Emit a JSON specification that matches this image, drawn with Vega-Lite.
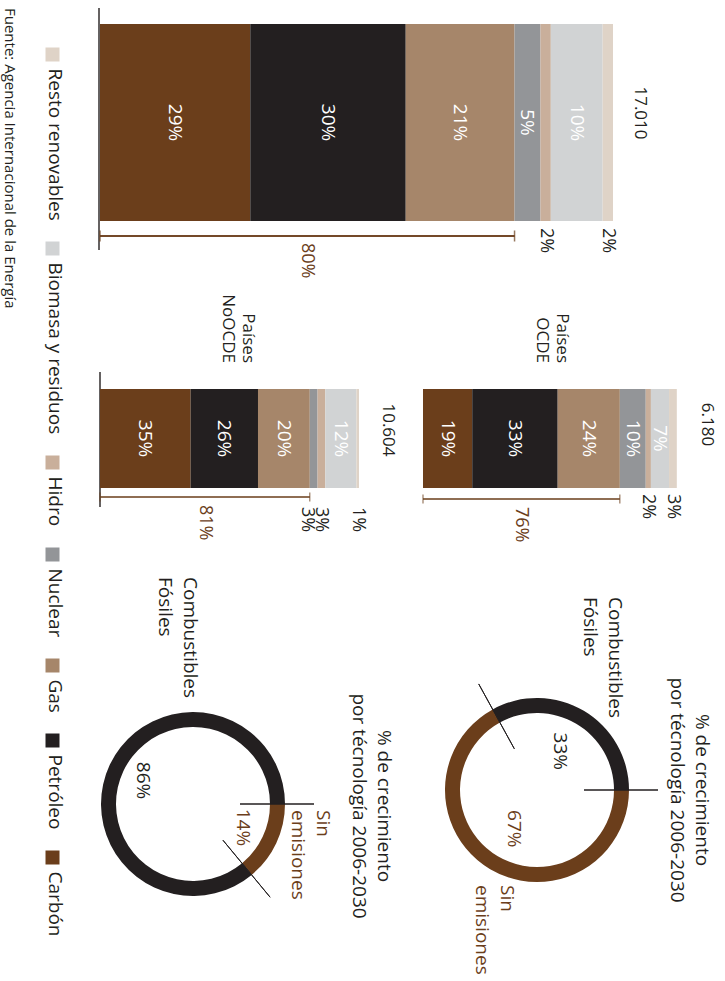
{
  "$schema": "https://vega.github.io/schema/vega-lite/v6.json",
  "width": 725,
  "height": 981,
  "autosize": {"type": "none"},
  "padding": 0,
  "background": "white",
  "config": {
    "view": {"stroke": null},
    "font": "Open Sans",
    "locale": {"number": {"decimal": ",", "thousands": ".", "grouping": [3], "currency": ["", " €"]}}
  },
  "datasets": {
    "mix": [
      {"region": "Mundo", "fuente": "Carbón", "grupo": "fósil", "orden": 1, "pct": 0.29},
      {"region": "Mundo", "fuente": "Petróleo", "grupo": "fósil", "orden": 2, "pct": 0.30},
      {"region": "Mundo", "fuente": "Gas", "grupo": "fósil", "orden": 3, "pct": 0.21},
      {"region": "Mundo", "fuente": "Nuclear", "grupo": "otras", "orden": 4, "pct": 0.05},
      {"region": "Mundo", "fuente": "Hidro", "grupo": "otras", "orden": 5, "pct": 0.02},
      {"region": "Mundo", "fuente": "Biomasa y residuos", "grupo": "otras", "orden": 6, "pct": 0.10},
      {"region": "Mundo", "fuente": "Resto renovables", "grupo": "otras", "orden": 7, "pct": 0.02},
      {"region": "OCDE", "fuente": "Carbón", "grupo": "fósil", "orden": 1, "pct": 0.19},
      {"region": "OCDE", "fuente": "Petróleo", "grupo": "fósil", "orden": 2, "pct": 0.33},
      {"region": "OCDE", "fuente": "Gas", "grupo": "fósil", "orden": 3, "pct": 0.24},
      {"region": "OCDE", "fuente": "Nuclear", "grupo": "otras", "orden": 4, "pct": 0.10},
      {"region": "OCDE", "fuente": "Hidro", "grupo": "otras", "orden": 5, "pct": 0.02},
      {"region": "OCDE", "fuente": "Biomasa y residuos", "grupo": "otras", "orden": 6, "pct": 0.07},
      {"region": "OCDE", "fuente": "Resto renovables", "grupo": "otras", "orden": 7, "pct": 0.03},
      {"region": "NoOCDE", "fuente": "Carbón", "grupo": "fósil", "orden": 1, "pct": 0.35},
      {"region": "NoOCDE", "fuente": "Petróleo", "grupo": "fósil", "orden": 2, "pct": 0.26},
      {"region": "NoOCDE", "fuente": "Gas", "grupo": "fósil", "orden": 3, "pct": 0.20},
      {"region": "NoOCDE", "fuente": "Nuclear", "grupo": "otras", "orden": 4, "pct": 0.03},
      {"region": "NoOCDE", "fuente": "Hidro", "grupo": "otras", "orden": 5, "pct": 0.03},
      {"region": "NoOCDE", "fuente": "Biomasa y residuos", "grupo": "otras", "orden": 6, "pct": 0.12},
      {"region": "NoOCDE", "fuente": "Resto renovables", "grupo": "otras", "orden": 7, "pct": 0.01}
    ],
    "regiones": [
      {"region": "Mundo", "demanda": 17010, "etiqueta": ""},
      {"region": "OCDE", "demanda": 6180, "etiqueta": "Países\nOCDE"},
      {"region": "NoOCDE", "demanda": 10604, "etiqueta": "Países\nNoOCDE"}
    ],
    "donas": [
      {"region": "OCDE", "tipo": "Sin emisiones", "orden": 1, "pct": 0.67},
      {"region": "OCDE", "tipo": "Combustibles Fósiles", "orden": 2, "pct": 0.33},
      {"region": "NoOCDE", "tipo": "Sin emisiones", "orden": 1, "pct": 0.14},
      {"region": "NoOCDE", "tipo": "Combustibles Fósiles", "orden": 2, "pct": 0.86}
    ],
    "titulos": [
      {"region": "OCDE", "titulo": "% de crecimiento\npor técnología 2006-2030"},
      {"region": "NoOCDE", "titulo": "% de crecimiento\npor técnología 2006-2030"}
    ],
    "notas": [
      {"region": "Mundo", "texto": "Fuente: Agencia Internacional de la Energía"}
    ]
  },
  "layer": [
    {
      "layer": [
        {
          "data": {"name": "mix"},
          "transform": [
            {"filter": "datum.region === 'Mundo'"},
            {"stack": "pct", "groupby": ["region"], "sort": [{"field": "orden", "order": "ascending"}], "as": ["ini", "fin"]}
          ],
          "encoding": {
            "y": {"field": "region", "type": "nominal", "axis": null,
                  "scale": {"paddingInner": 0.497449, "paddingOuter": 1, "align": 0.030612}}
          },
          "layer": [
            {
              "transform": [{"filter": "datum.orden === 1"}],
              "mark": {"type": "tick", "color": "#231f20", "thickness": 2, "size": 242, "xOffset": -1, "yOffset": 6.5},
              "encoding": {"x": {"field": "ini", "type": "quantitative", "axis": null}}
            },
            {
              "mark": {"type": "bar"},
              "encoding": {
                "x": {"field": "ini", "type": "quantitative", "axis": null,
                      "scale": {"domain": [-0.19298, 1.20615], "nice": false, "zero": false}},
                "x2": {"field": "fin"},
                "color": {
                  "field": "fuente", "type": "nominal",
                  "scale": {
                    "domain": ["Carbón", "Petróleo", "Gas", "Nuclear", "Hidro", "Biomasa y residuos", "Resto renovables"],
                    "range": ["#6b3e1b", "#231f20", "#a6866a", "#939598", "#c9af9b", "#d1d3d4", "#dfd3c7"]
                  },
                  "legend": {
                    "orient": "none", "legendX": 43, "legendY": 45, "direction": "vertical",
                    "title": null, "padding": 0,
                    "values": ["Resto renovables", "Biomasa y residuos", "Hidro", "Nuclear", "Gas", "Petróleo", "Carbón"],
                    "symbolType": "square", "symbolSize": 196, "symbolStrokeWidth": 0, "symbolOffset": 0,
                    "labelFont": "Open Sans", "labelFontSize": 19, "labelColor": "#231f20",
                    "labelLimit": 400, "labelOffset": -7, "labelAlign": "left", "labelBaseline": "middle",
                    "rowPadding": 18,
                    "encoding": {"labels": {"angle": {"value": 90}, "dx": {"value": 14}}}
                  }
                }
              }
            },
            {
              "transform": [{"filter": "datum.pct >= 0.05"}, {"fold": ["ini", "fin"], "as": ["extremo", "pos"]}],
              "mark": {"type": "text", "angle": 90, "align": "center", "baseline": "middle", "fontSize": 19, "color": "white"},
              "encoding": {
                "x": {"aggregate": "mean", "field": "pos", "type": "quantitative", "axis": null},
                "detail": {"field": "fuente", "type": "nominal"},
                "text": {"field": "pct", "type": "quantitative", "format": ".0%"}
              }
            },
            {
              "transform": [{"filter": "datum.pct < 0.05"}, {"fold": ["ini", "fin"], "as": ["extremo", "pos"]}],
              "mark": {"type": "text", "angle": 90, "align": "left", "baseline": "middle", "fontSize": 18, "color": "#231f20", "yOffset": 7},
              "encoding": {
                "x": {"aggregate": "mean", "field": "pos", "type": "quantitative", "axis": null},
                "y": {"field": "region", "type": "nominal", "bandPosition": 1, "axis": null},
                "detail": {"field": "fuente", "type": "nominal"},
                "text": {"field": "pct", "type": "quantitative", "format": ".0%"}
              }
            },
            {
              "transform": [
                {"aggregate": [{"op": "max", "field": "fin", "as": "hasta"}], "groupby": ["region"]},
                {"lookup": "region", "from": {"data": {"name": "regiones"}, "key": "region", "fields": ["demanda"]}}
              ],
              "mark": {"type": "text", "angle": 90, "align": "center", "baseline": "middle", "fontSize": 17, "color": "#231f20", "xOffset": 27, "yOffset": -9.5},
              "encoding": {
                "x": {"field": "hasta", "type": "quantitative", "axis": null},
                "text": {"field": "demanda", "type": "quantitative", "format": ",d"}
              }
            },
            {
              "transform": [
                {"filter": "datum.grupo === 'fósil'"},
                {"aggregate": [{"op": "min", "field": "ini", "as": "desde"}, {"op": "max", "field": "fin", "as": "hasta"}, {"op": "sum", "field": "pct", "as": "fosil"}], "groupby": ["region"]},
                {"fold": ["desde", "hasta"], "as": ["extremo", "pos"]}
              ],
              "encoding": {"y": {"field": "region", "type": "nominal", "bandPosition": 1, "axis": null}},
              "layer": [
                {
                  "mark": {"type": "rule", "color": "#6b3e1b", "strokeWidth": 1.5, "yOffset": 15},
                  "encoding": {"x": {"field": "desde", "type": "quantitative", "axis": null}, "x2": {"field": "hasta"}}
                },
                {
                  "mark": {"type": "tick", "color": "#6b3e1b", "thickness": 1.5, "size": 11, "yOffset": 113.5},
                  "encoding": {
                    "x": {"field": "pos", "type": "quantitative", "axis": null},
                    "y": {"field": "region", "type": "nominal", "axis": null}
                  }
                },
                {
                  "mark": {"type": "text", "angle": 90, "align": "left", "baseline": "middle", "fontSize": 18, "color": "#6b3e1b", "yOffset": 22},
                  "encoding": {
                    "x": {"aggregate": "mean", "field": "pos", "type": "quantitative", "axis": null},
                    "text": {"field": "fosil", "type": "quantitative", "format": ".0%"}
                  }
                }
              ]
            },
            {
              "transform": [
                {"filter": "datum.orden === 1"},
                {"lookup": "region", "from": {"data": {"name": "notas"}, "key": "region", "fields": ["texto"]}}
              ],
              "mark": {"type": "text", "angle": 90, "align": "left", "baseline": "middle", "fontSize": 15, "color": "#231f20", "xOffset": -90, "yOffset": -16},
              "encoding": {
                "x": {"field": "ini", "type": "quantitative", "axis": null},
                "y": {"field": "region", "type": "nominal", "bandPosition": 0, "axis": null},
                "text": {"field": "texto", "type": "nominal"}
              }
            }
          ]
        },
        {
          "data": {"name": "mix"},
          "transform": [
            {"filter": "datum.region === 'NoOCDE'"},
            {"stack": "pct", "groupby": ["region"], "sort": [{"field": "orden", "order": "ascending"}], "as": ["ini", "fin"]}
          ],
          "encoding": {
            "y": {"field": "region", "type": "nominal", "axis": null,
                  "scale": {"paddingInner": 0.775511, "paddingOuter": 1, "align": 0.441043}}
          },
          "layer": [
            {
              "transform": [{"filter": "datum.orden === 1"}],
              "mark": {"type": "tick", "color": "#231f20", "thickness": 2, "size": 135, "yOffset": 1},
              "encoding": {"x": {"field": "ini", "type": "quantitative", "axis": null}}
            },
            {
              "mark": {"type": "bar"},
              "encoding": {
                "x": {"field": "ini", "type": "quantitative", "axis": null,
                      "scale": {"domain": [-0.38610, 2.41313], "nice": false, "zero": false}},
                "x2": {"field": "fin"},
                "color": {
                  "field": "fuente", "type": "nominal",
                  "scale": {
                    "domain": ["Carbón", "Petróleo", "Gas", "Nuclear", "Hidro", "Biomasa y residuos", "Resto renovables"],
                    "range": ["#6b3e1b", "#231f20", "#a6866a", "#939598", "#c9af9b", "#d1d3d4", "#dfd3c7"]
                  }
                }
              }
            },
            {
              "transform": [{"filter": "datum.pct >= 0.05"}, {"fold": ["ini", "fin"], "as": ["extremo", "pos"]}],
              "mark": {"type": "text", "angle": 90, "align": "center", "baseline": "middle", "fontSize": 19, "color": "white"},
              "encoding": {
                "x": {"aggregate": "mean", "field": "pos", "type": "quantitative", "axis": null},
                "detail": {"field": "fuente", "type": "nominal"},
                "text": {"field": "pct", "type": "quantitative", "format": ".0%"}
              }
            },
            {
              "transform": [{"filter": "datum.pct < 0.05 && datum.fuente !== 'Nuclear'"}, {"fold": ["ini", "fin"], "as": ["extremo", "pos"]}],
              "mark": {"type": "text", "angle": 90, "align": "left", "baseline": "middle", "fontSize": 18, "color": "#231f20", "yOffset": 19},
              "encoding": {
                "x": {"aggregate": "mean", "field": "pos", "type": "quantitative", "axis": null},
                "y": {"field": "region", "type": "nominal", "bandPosition": 1, "axis": null},
                "detail": {"field": "fuente", "type": "nominal"},
                "text": {"field": "pct", "type": "quantitative", "format": ".0%"}
              }
            },
            {
              "transform": [{"filter": "datum.pct < 0.05 && datum.fuente === 'Nuclear'"}, {"fold": ["ini", "fin"], "as": ["extremo", "pos"]}],
              "mark": {"type": "text", "angle": 90, "align": "left", "baseline": "middle", "fontSize": 18, "color": "#231f20", "xOffset": -7, "yOffset": 19},
              "encoding": {
                "x": {"aggregate": "mean", "field": "pos", "type": "quantitative", "axis": null},
                "y": {"field": "region", "type": "nominal", "bandPosition": 1, "axis": null},
                "detail": {"field": "fuente", "type": "nominal"},
                "text": {"field": "pct", "type": "quantitative", "format": ".0%"}
              }
            },
            {
              "transform": [
                {"aggregate": [{"op": "min", "field": "ini", "as": "desde"}, {"op": "max", "field": "fin", "as": "hasta"}], "groupby": ["region"]},
                {"lookup": "region", "from": {"data": {"name": "regiones"}, "key": "region", "fields": ["demanda", "etiqueta"]}},
                {"fold": ["desde", "hasta"], "as": ["extremo", "pos"]}
              ],
              "layer": [
                {
                  "mark": {"type": "text", "angle": 90, "align": "center", "baseline": "middle", "fontSize": 17, "color": "#231f20", "xOffset": 29, "yOffset": -8.5},
                  "encoding": {
                    "x": {"aggregate": "max", "field": "pos", "type": "quantitative", "axis": null},
                    "text": {"field": "demanda", "type": "quantitative", "format": ",d"}
                  }
                },
                {
                  "mark": {"type": "text", "angle": 90, "align": "right", "baseline": "middle", "fontSize": 17, "color": "#231f20", "lineBreak": "\n", "lineHeight": 20, "xOffset": 18.5, "yOffset": -26},
                  "encoding": {
                    "x": {"aggregate": "mean", "field": "pos", "type": "quantitative", "axis": null},
                    "y": {"field": "region", "type": "nominal", "bandPosition": 0, "axis": null},
                    "text": {"field": "etiqueta", "type": "nominal"}
                  }
                }
              ]
            },
            {
              "transform": [
                {"filter": "datum.grupo === 'fósil'"},
                {"aggregate": [{"op": "min", "field": "ini", "as": "desde"}, {"op": "max", "field": "fin", "as": "hasta"}, {"op": "sum", "field": "pct", "as": "fosil"}], "groupby": ["region"]},
                {"fold": ["desde", "hasta"], "as": ["extremo", "pos"]}
              ],
              "encoding": {"y": {"field": "region", "type": "nominal", "bandPosition": 1, "axis": null}},
              "layer": [
                {
                  "mark": {"type": "rule", "color": "#6b3e1b", "strokeWidth": 1.2, "yOffset": 9},
                  "encoding": {"x": {"field": "desde", "type": "quantitative", "axis": null}, "x2": {"field": "hasta"}}
                },
                {
                  "mark": {"type": "tick", "color": "#6b3e1b", "thickness": 1.2, "size": 9, "yOffset": 58.5},
                  "encoding": {
                    "x": {"field": "pos", "type": "quantitative", "axis": null},
                    "y": {"field": "region", "type": "nominal", "axis": null}
                  }
                },
                {
                  "mark": {"type": "text", "angle": 90, "align": "left", "baseline": "middle", "fontSize": 18, "color": "#6b3e1b", "yOffset": 17},
                  "encoding": {
                    "x": {"aggregate": "mean", "field": "pos", "type": "quantitative", "axis": null},
                    "text": {"field": "fosil", "type": "quantitative", "format": ".0%"}
                  }
                }
              ]
            }
          ]
        },
        {
          "data": {"name": "mix"},
          "transform": [
            {"filter": "datum.region === 'OCDE'"},
            {"stack": "pct", "groupby": ["region"], "sort": [{"field": "orden", "order": "ascending"}], "as": ["ini", "fin"]}
          ],
          "encoding": {
            "y": {"field": "region", "type": "nominal", "axis": null,
                  "scale": {"paddingInner": 0.775511, "paddingOuter": 1, "align": 0.441043}}
          },
          "layer": [
            {
              "mark": {"type": "bar"},
              "encoding": {
                "x": {"field": "ini", "type": "quantitative", "axis": null,
                      "scale": {"domain": [-1.63320, 1.16603], "nice": false, "zero": false}},
                "x2": {"field": "fin"},
                "color": {
                  "field": "fuente", "type": "nominal",
                  "scale": {
                    "domain": ["Carbón", "Petróleo", "Gas", "Nuclear", "Hidro", "Biomasa y residuos", "Resto renovables"],
                    "range": ["#6b3e1b", "#231f20", "#a6866a", "#939598", "#c9af9b", "#d1d3d4", "#dfd3c7"]
                  }
                }
              }
            },
            {
              "transform": [{"filter": "datum.pct >= 0.05"}, {"fold": ["ini", "fin"], "as": ["extremo", "pos"]}],
              "mark": {"type": "text", "angle": 90, "align": "center", "baseline": "middle", "fontSize": 19, "color": "white"},
              "encoding": {
                "x": {"aggregate": "mean", "field": "pos", "type": "quantitative", "axis": null},
                "detail": {"field": "fuente", "type": "nominal"},
                "text": {"field": "pct", "type": "quantitative", "format": ".0%"}
              }
            },
            {
              "transform": [{"filter": "datum.pct < 0.05"}, {"fold": ["ini", "fin"], "as": ["extremo", "pos"]}],
              "mark": {"type": "text", "angle": 90, "align": "left", "baseline": "middle", "fontSize": 18, "color": "#231f20", "yOffset": 6},
              "encoding": {
                "x": {"aggregate": "mean", "field": "pos", "type": "quantitative", "axis": null},
                "y": {"field": "region", "type": "nominal", "bandPosition": 1, "axis": null},
                "detail": {"field": "fuente", "type": "nominal"},
                "text": {"field": "pct", "type": "quantitative", "format": ".0%"}
              }
            },
            {
              "transform": [
                {"aggregate": [{"op": "min", "field": "ini", "as": "desde"}, {"op": "max", "field": "fin", "as": "hasta"}], "groupby": ["region"]},
                {"lookup": "region", "from": {"data": {"name": "regiones"}, "key": "region", "fields": ["demanda", "etiqueta"]}},
                {"fold": ["desde", "hasta"], "as": ["extremo", "pos"]}
              ],
              "layer": [
                {
                  "mark": {"type": "text", "angle": 90, "align": "center", "baseline": "middle", "fontSize": 17, "color": "#231f20", "xOffset": 30, "yOffset": -14},
                  "encoding": {
                    "x": {"aggregate": "max", "field": "pos", "type": "quantitative", "axis": null},
                    "text": {"field": "demanda", "type": "quantitative", "format": ",d"}
                  }
                },
                {
                  "mark": {"type": "text", "angle": 90, "align": "right", "baseline": "middle", "fontSize": 17, "color": "#231f20", "lineBreak": "\n", "lineHeight": 20, "xOffset": 12, "yOffset": -26},
                  "encoding": {
                    "x": {"aggregate": "mean", "field": "pos", "type": "quantitative", "axis": null},
                    "y": {"field": "region", "type": "nominal", "bandPosition": 0, "axis": null},
                    "text": {"field": "etiqueta", "type": "nominal"}
                  }
                }
              ]
            },
            {
              "transform": [
                {"filter": "datum.grupo === 'fósil'"},
                {"aggregate": [{"op": "min", "field": "ini", "as": "desde"}, {"op": "max", "field": "fin", "as": "hasta"}, {"op": "sum", "field": "pct", "as": "fosil"}], "groupby": ["region"]},
                {"fold": ["desde", "hasta"], "as": ["extremo", "pos"]}
              ],
              "encoding": {"y": {"field": "region", "type": "nominal", "bandPosition": 1, "axis": null}},
              "layer": [
                {
                  "mark": {"type": "rule", "color": "#6b3e1b", "strokeWidth": 1.2, "yOffset": 11},
                  "encoding": {"x": {"field": "desde", "type": "quantitative", "axis": null}, "x2": {"field": "hasta"}}
                },
                {
                  "mark": {"type": "tick", "color": "#6b3e1b", "thickness": 1.2, "size": 9, "yOffset": 60.5},
                  "encoding": {
                    "x": {"field": "pos", "type": "quantitative", "axis": null},
                    "y": {"field": "region", "type": "nominal", "axis": null}
                  }
                },
                {
                  "mark": {"type": "text", "angle": 90, "align": "left", "baseline": "middle", "fontSize": 18, "color": "#6b3e1b", "yOffset": 19},
                  "encoding": {
                    "x": {"aggregate": "mean", "field": "pos", "type": "quantitative", "axis": null},
                    "text": {"field": "fosil", "type": "quantitative", "format": ".0%"}
                  }
                }
              ]
            }
          ]
        }
      ],
      "resolve": {"scale": {"x": "independent", "y": "independent"}}
    },
    {
      "layer": [
        {
          "data": {"name": "donas"},
          "transform": [{"filter": "datum.region === 'OCDE'"}],
          "encoding": {
            "x": {"field": "region", "type": "nominal", "axis": null, "scale": {"type": "point", "padding": 0, "align": 0.74069}},
            "y": {"field": "region", "type": "nominal", "axis": null, "scale": {"type": "point", "padding": 0, "align": 0.805301}}
          },
          "layer": [
            {
              "mark": {"type": "arc", "outerRadius": 92, "innerRadius": 77},
              "encoding": {
                "theta": {"field": "pct", "type": "quantitative", "stack": "zero", "scale": {"domain": [0, 1], "range": [1.5708, 7.854]}},
                "color": {"field": "tipo", "type": "nominal", "scale": {"domain": ["Sin emisiones", "Combustibles Fósiles"], "range": ["#6b3e1b", "#231f20"]}, "legend": null},
                "order": {"field": "orden", "type": "quantitative"}
              }
            },
            {
              "transform": [{"stack": "pct", "groupby": ["region"], "sort": [{"field": "orden", "order": "ascending"}], "as": ["ini", "fin"]}],
              "mark": {"type": "arc", "innerRadius": 47, "outerRadius": 121, "stroke": "#231f20", "strokeWidth": 1, "fillOpacity": 0},
              "encoding": {
                "theta": {"field": "ini", "type": "quantitative", "stack": null},
                "theta2": {"field": "ini"}
              }
            },
            {
              "mark": {"type": "text", "radius": 45, "angle": 90, "align": "center", "baseline": "middle", "fontSize": 19},
              "encoding": {
                "theta": {"field": "pct", "type": "quantitative", "stack": "zero"},
                "order": {"field": "orden", "type": "quantitative"},
                "color": {"field": "tipo", "type": "nominal", "legend": null},
                "text": {"field": "pct", "type": "quantitative", "format": ".0%"}
              }
            },
            {
              "transform": [{"filter": "datum.tipo === 'Combustibles Fósiles'"}],
              "mark": {"type": "text", "angle": 90, "align": "left", "baseline": "middle", "fontSize": 19, "lineBreak": " ", "lineHeight": 25, "xOffset": 78, "yOffset": -193},
              "encoding": {
                "color": {"field": "tipo", "type": "nominal", "legend": null},
                "text": {"field": "tipo", "type": "nominal"}
              }
            },
            {
              "transform": [{"filter": "datum.tipo === 'Sin emisiones'"}],
              "mark": {"type": "text", "angle": 90, "align": "left", "baseline": "middle", "fontSize": 19, "lineBreak": " ", "lineHeight": 25, "xOffset": -30, "yOffset": 95},
              "encoding": {
                "color": {"field": "tipo", "type": "nominal", "legend": null},
                "text": {"field": "tipo", "type": "nominal"}
              }
            },
            {
              "data": {"name": "titulos"},
              "transform": [{"filter": "datum.region === 'OCDE'"}],
              "mark": {"type": "text", "angle": 90, "align": "center", "baseline": "middle", "fontSize": 19, "color": "#231f20", "lineBreak": "\n", "lineHeight": 25, "xOffset": 165},
              "encoding": {"text": {"field": "titulo", "type": "nominal"}}
            }
          ]
        },
        {
          "data": {"name": "donas"},
          "transform": [{"filter": "datum.region === 'NoOCDE'"}],
          "encoding": {
            "x": {"field": "region", "type": "nominal", "axis": null, "scale": {"type": "point", "padding": 0, "align": 0.266207}},
            "y": {"field": "region", "type": "nominal", "axis": null, "scale": {"type": "point", "padding": 0, "align": 0.819572}}
          },
          "layer": [
            {
              "mark": {"type": "arc", "outerRadius": 92, "innerRadius": 77},
              "encoding": {
                "theta": {"field": "pct", "type": "quantitative", "stack": "zero", "scale": {"domain": [0, 1], "range": [1.5708, 7.854]}},
                "color": {"field": "tipo", "type": "nominal", "scale": {"domain": ["Sin emisiones", "Combustibles Fósiles"], "range": ["#6b3e1b", "#231f20"]}, "legend": null},
                "order": {"field": "orden", "type": "quantitative"}
              }
            },
            {
              "transform": [{"stack": "pct", "groupby": ["region"], "sort": [{"field": "orden", "order": "ascending"}], "as": ["ini", "fin"]}],
              "mark": {"type": "arc", "innerRadius": 47, "outerRadius": 121, "stroke": "#231f20", "strokeWidth": 1, "fillOpacity": 0},
              "encoding": {
                "theta": {"field": "ini", "type": "quantitative", "stack": null},
                "theta2": {"field": "ini"}
              }
            },
            {
              "mark": {"type": "text", "radius": 55, "angle": 90, "align": "center", "baseline": "middle", "fontSize": 19},
              "encoding": {
                "theta": {"field": "pct", "type": "quantitative", "stack": "zero"},
                "order": {"field": "orden", "type": "quantitative"},
                "color": {"field": "tipo", "type": "nominal", "legend": null},
                "text": {"field": "pct", "type": "quantitative", "format": ".0%"}
              }
            },
            {
              "transform": [{"filter": "datum.tipo === 'Combustibles Fósiles'"}],
              "mark": {"type": "text", "angle": 90, "align": "left", "baseline": "middle", "fontSize": 19, "lineBreak": " ", "lineHeight": 25, "xOffset": -3, "yOffset": -227},
              "encoding": {
                "color": {"field": "tipo", "type": "nominal", "legend": null},
                "text": {"field": "tipo", "type": "nominal"}
              }
            },
            {
              "transform": [{"filter": "datum.tipo === 'Sin emisiones'"}],
              "mark": {"type": "text", "angle": 90, "align": "left", "baseline": "middle", "fontSize": 19, "lineBreak": " ", "lineHeight": 25, "xOffset": 130, "yOffset": 6},
              "encoding": {
                "color": {"field": "tipo", "type": "nominal", "legend": null},
                "text": {"field": "tipo", "type": "nominal"}
              }
            },
            {
              "data": {"name": "titulos"},
              "transform": [{"filter": "datum.region === 'NoOCDE'"}],
              "mark": {"type": "text", "angle": 90, "align": "center", "baseline": "middle", "fontSize": 19, "color": "#231f20", "lineBreak": "\n", "lineHeight": 25, "xOffset": 190.5, "yOffset": 2},
              "encoding": {"text": {"field": "titulo", "type": "nominal"}}
            }
          ]
        }
      ],
      "resolve": {"scale": {"x": "independent", "y": "independent"}}
    }
  ],
  "resolve": {"scale": {"x": "independent", "y": "independent", "color": "independent"}}
}
